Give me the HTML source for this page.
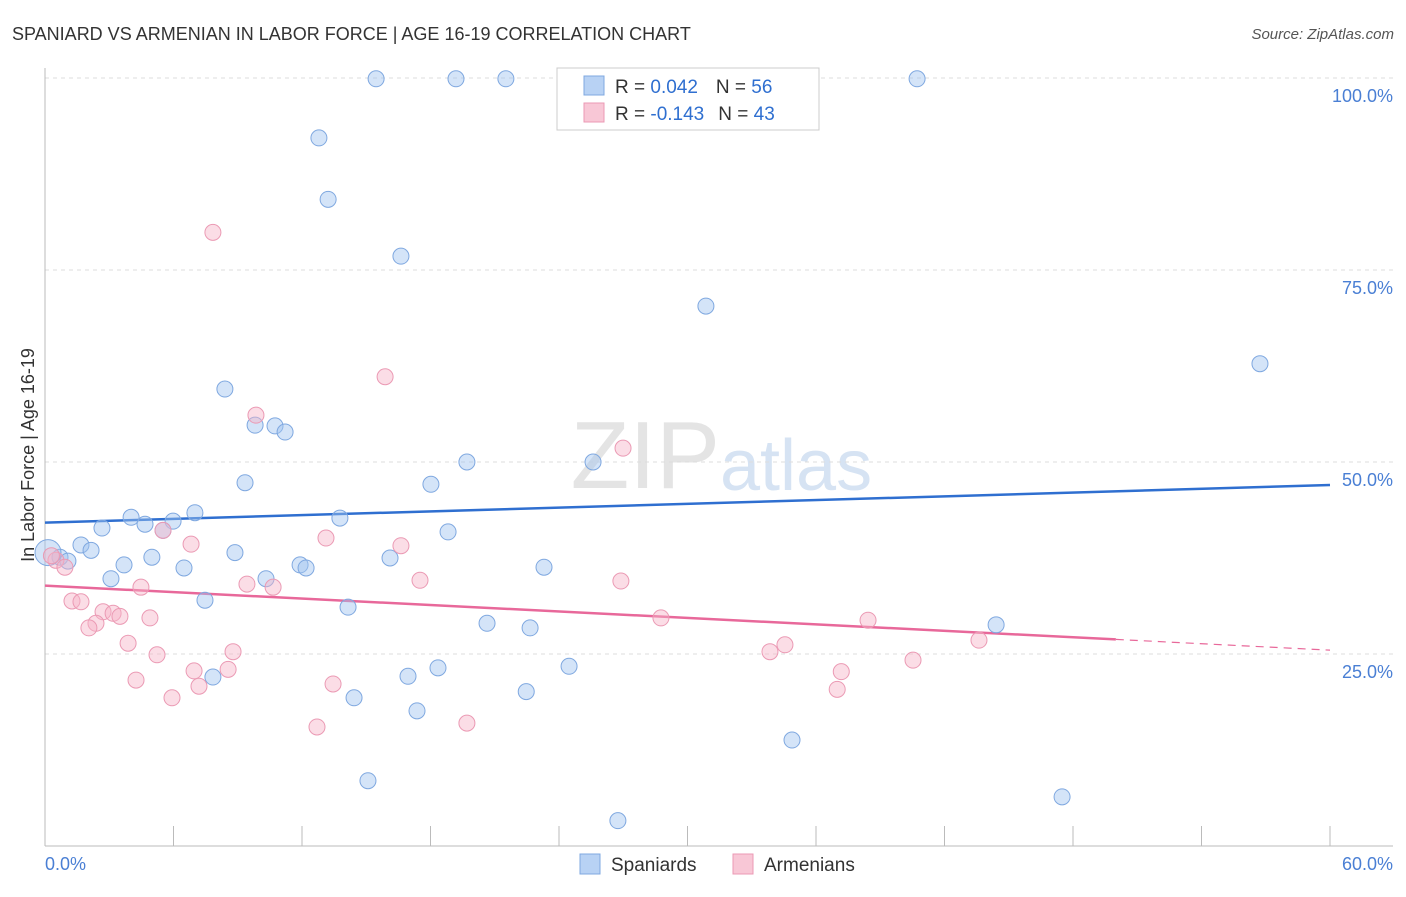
<!DOCTYPE html>
<html><head><meta charset="utf-8"><style>
body{margin:0;background:#fff;font-family:"Liberation Sans",sans-serif;}
svg text{font-family:"Liberation Sans",sans-serif;}
</style></head><body>
<svg id="chart" width="1406" height="892" viewBox="0 0 1406 892" xmlns="http://www.w3.org/2000/svg">
<text x="12" y="40" font-size="18" fill="#333">SPANIARD VS ARMENIAN IN LABOR FORCE | AGE 16-19 CORRELATION CHART</text>
<text x="1394" y="39" font-size="15" fill="#555" font-style="italic" text-anchor="end">Source: ZipAtlas.com</text>
<text x="720" y="488" font-size="96" fill="#e4e4e4" text-anchor="end" font-family="Liberation Serif">ZIP</text>
<text x="720" y="490" font-size="72" fill="#d6e3f3">atlas</text>
<g id="grid"></g><g id="axes"></g><g id="trends"></g><g id="points"></g>
<text transform="translate(34,455) rotate(-90)" font-size="18" fill="#333" text-anchor="middle">In Labor Force | Age 16-19</text>
<text x="45" y="870" font-size="18" fill="#4a7fd4">0.0%</text>
<text x="1393" y="870" font-size="18" fill="#4a7fd4" text-anchor="end">60.0%</text>
<g>
<rect x="557" y="68" width="262" height="62" fill="#fff" stroke="#ccc"/>
<rect x="584" y="76" width="20" height="19" fill="#b8d2f4" stroke="#7fa8e0"/>
<rect x="584" y="103" width="20" height="19" fill="#f8c7d6" stroke="#eb9ab4"/>
<text x="615" y="93" font-size="19" fill="#333">R = <tspan fill="#2f6fd0">0.042</tspan><tspan dx="18">N = </tspan><tspan fill="#2f6fd0">56</tspan></text>
<text x="615" y="120" font-size="19" fill="#333">R = <tspan fill="#2f6fd0">-0.143</tspan><tspan dx="14">N = </tspan><tspan fill="#2f6fd0">43</tspan></text>
</g>
<g>
<rect x="580" y="854" width="20" height="20" fill="#b8d2f4" stroke="#7fa8e0"/>
<text x="611" y="871" font-size="19" fill="#333">Spaniards</text>
<rect x="733" y="854" width="20" height="20" fill="#f8c7d6" stroke="#eb9ab4"/>
<text x="764" y="871" font-size="19" fill="#333">Armenians</text>
</g>
</svg>
<script>
const blueX=[15.46,19.19,21.52,40.72,12.79,13.22,16.62,30.86,56.73,8.40,9.81,10.74,11.21,19.70,25.59,9.34,18.02,7.00,4.02,5.98,4.67,13.77,2.66,5.51,18.82,1.68,2.15,8.87,4.99,16.11,0.70,0.14,1.07,3.69,6.49,11.91,12.19,23.30,3.08,10.32,7.47,14.15,20.64,22.65,44.41,18.35,24.47,16.95,7.84,22.47,14.43,17.37,34.88,15.08,47.49,26.75];
const blueY=[99.9,99.9,99.9,99.9,92.2,84.2,76.8,70.3,62.8,59.5,54.8,54.7,53.9,50.0,50.0,47.3,47.1,43.4,42.8,42.3,41.9,42.7,41.4,41.1,40.9,39.2,38.5,38.2,37.6,37.5,37.6,38.2,37.1,36.6,36.2,36.6,36.2,36.3,34.8,34.8,32.0,31.1,29.0,28.4,28.8,23.2,23.4,22.1,22.0,20.1,19.3,17.6,13.8,8.5,6.4,3.3];
const pinkX=[7.84,15.88,9.85,26.99,5.51,13.12,6.82,16.62,0.51,0.93,17.51,26.89,9.43,10.65,4.48,1.26,1.68,2.71,3.18,3.50,4.90,28.76,38.43,2.38,2.05,3.88,34.55,43.61,8.78,5.23,33.85,40.53,6.96,8.55,37.18,4.25,13.45,7.19,36.99,5.93,19.70,12.70,0.3];
const pinkY=[79.9,61.1,56.1,51.8,41.1,40.1,39.3,39.1,37.2,36.3,34.6,34.5,34.1,33.7,33.7,31.9,31.8,30.5,30.3,29.9,29.7,29.7,29.4,29.0,28.4,26.4,26.2,26.8,25.3,24.9,25.3,24.2,22.8,23.0,22.7,21.6,21.1,20.8,20.4,19.3,16.0,15.5,37.8];
const yTicks=[100,75,50,25];
const blueTrend=[42.1,47.0];
const pinkTrend=[33.9,25.5];
const pinkSolidEnd=50;
const NS="http://www.w3.org/2000/svg";
const sx=v=>45+v/60*1285, sy=v=>846-v*7.68;
function mk(t,a,p){const e=document.createElementNS(NS,t);for(const k in a)e.setAttribute(k,a[k]);p.appendChild(e);return e;}
const grid=document.getElementById('grid'),axes=document.getElementById('axes'),tr=document.getElementById('trends'),pts=document.getElementById('points');
yTicks.forEach(t=>{
 const l=mk('line',{x1:45,x2:1393,y1:sy(t),y2:sy(t),stroke:'#ddd','stroke-dasharray':'4,4'},grid);
 
 
 const tx=mk('text',{x:1393,y:sy(t)+24,'font-size':18,fill:'#4a7fd4','text-anchor':'end'},grid);
 tx.textContent=t.toFixed(1)+'%';
 
 
});
const ax=mk('line',{x1:45,x2:45,y1:68,y2:846,stroke:'#bbb'},axes);


const bx=mk('line',{x1:45,x2:1393,y1:846,y2:846,stroke:'#bbb'},axes);


for(let i=0;i<=10;i++){const t=mk('line',{x1:sx(i*6),x2:sx(i*6),y1:826,y2:846,stroke:'#bbb'},axes);
 
 }
const bt=mk('line',{x1:sx(0),y1:sy(blueTrend[0]),x2:sx(60),y2:sy(blueTrend[1]),stroke:'#2f6fd0','stroke-width':2.5},tr);


const py=x=>pinkTrend[0]+(pinkTrend[1]-pinkTrend[0])*x/60;
const pt=mk('line',{x1:sx(0),y1:sy(py(0)),x2:sx(pinkSolidEnd),y2:sy(py(pinkSolidEnd)),stroke:'#e8689a','stroke-width':2.5},tr);


const pd=mk('line',{x1:sx(pinkSolidEnd),y1:sy(py(pinkSolidEnd)),x2:sx(60),y2:sy(py(60)),stroke:'#e8689a','stroke-width':1.2,'stroke-dasharray':'8,6'},tr);


blueX.forEach((x,i)=>{const c=mk('circle',{cx:sx(x),cy:sy(blueY[i]),r:(i==31?13:8),fill:'rgba(160,195,240,0.45)',stroke:'#7fa8e0','stroke-width':1},pts);
 
 });
pinkX.forEach((x,i)=>{const c=mk('circle',{cx:sx(x),cy:sy(pinkY[i]),r:8,fill:'rgba(246,180,200,0.45)',stroke:'#eb9ab4','stroke-width':1},pts);
 
 });
</script>
</body></html>
